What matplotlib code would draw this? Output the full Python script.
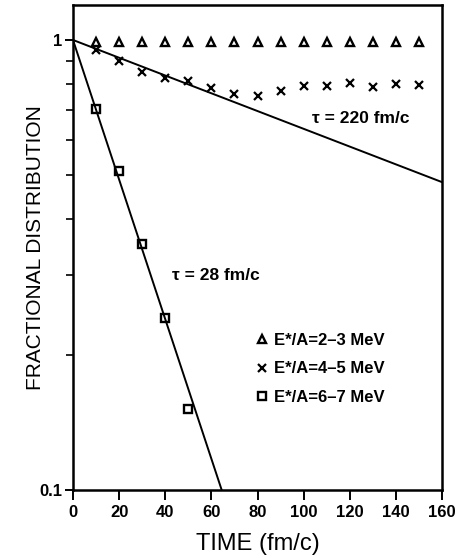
import numpy as np
import matplotlib
matplotlib.use('Agg')
import matplotlib.pyplot as plt
from matplotlib import font_manager
from matplotlib.ticker import FixedLocator, NullFormatter

# time bins (fm/c)
times = [10, 20, 30, 40, 50, 60, 70, 80, 90, 100, 110, 120, 130, 140, 150]
# fractional distribution for each excitation energy bin
frac_23 = [0.99, 0.99, 0.99, 0.99, 0.99, 0.99, 0.99, 0.99, 0.99, 0.99, 0.99, 0.99, 0.99, 0.99, 0.99]
frac_45 = [0.950, 0.898, 0.849, 0.823, 0.811, 0.782, 0.759, 0.751, 0.770, 0.790, 0.790, 0.803, 0.786, 0.798, 0.794]
times_67 = [10, 20, 30, 40, 50]
frac_67 = [0.702, 0.512, 0.352, 0.241, 0.151]

labels = ['E*/A=2\u20133 MeV', 'E*/A=4\u20135 MeV', 'E*/A=6\u20137 MeV']
# decay constants of the fitted exponentials
tau_slow = 220
tau_fast = 28

names = {f.name for f in font_manager.fontManager.ttflist}
narrow = 'Liberation Sans Narrow' if 'Liberation Sans Narrow' in names else 'Liberation Sans'
plt.rcParams['font.family'] = ['Liberation Sans', 'DejaVu Sans']

fig = plt.figure(figsize=(4.6, 5.58), dpi=100)
ax = fig.add_axes([73/460, 1-490/558, 369/460, 485/558])

t = np.linspace(0, 160, 400)
ax.plot(t, np.exp(-t/tau_slow), color='black', lw=1.4)
ax.plot(t, np.exp(-t/tau_fast), color='black', lw=1.4)

ax.plot(times, frac_23, ls='none', marker='^', ms=6, mfc='none', mec='black', mew=1.7, label=labels[0])
ax.plot(times, frac_45, ls='none', marker='x', ms=6, mec='black', mew=1.6, label=labels[1])
ax.plot(times_67, frac_67, ls='none', marker='s', ms=6, mfc='none', mec='black', mew=1.7, label=labels[2])

ax.set_yscale('log')
ax.set_xlim(0, 160)
ax.set_ylim(0.1, 1.196)
ax.set_xticks(range(0, 161, 20))
ax.yaxis.set_major_locator(FixedLocator([0.1, 1]))
ax.yaxis.set_minor_locator(FixedLocator([0.2, 0.3, 0.4, 0.5, 0.6, 0.7, 0.8, 0.9]))
ax.yaxis.set_minor_formatter(NullFormatter())
ax.set_yticklabels(['0.1', '1'])

for lab in ax.get_xticklabels() + ax.get_yticklabels():
    lab.set_fontweight('bold')
    lab.set_fontsize(12)
ax.tick_params(axis='x', direction='out', length=7, width=1.4, pad=4)
ax.tick_params(axis='y', which='major', direction='out', length=6, width=1.4, pad=2)
ax.tick_params(axis='y', which='minor', direction='out', length=5, width=1.2)
for sp in ax.spines.values():
    sp.set_linewidth(1.8)

ax.set_xlabel('TIME (fm/c)', family=narrow, fontsize=17, labelpad=9)
ax.set_ylabel('FRACTIONAL DISTRIBUTION', family=narrow, fontsize=15)
ax.yaxis.set_label_coords(-0.076, 0.5)

ax.text(0.648, 0.767, '\u03c4 = 220 fm/c', transform=ax.transAxes, fontsize=12.5,
        fontweight='bold', va='center')
ax.text(0.268, 0.443, '\u03c4 = 28 fm/c', transform=ax.transAxes, fontsize=12.5,
        fontweight='bold', va='center')

ax.legend(loc='upper left', bbox_to_anchor=(258/460, 1-333/558), bbox_transform=fig.transFigure,
          frameon=False, handlelength=0.5, handletextpad=0.45, labelspacing=0.8,
          borderpad=0, borderaxespad=0, prop={'weight': 'bold', 'size': 12})

plt.savefig('out.png', dpi=100)
